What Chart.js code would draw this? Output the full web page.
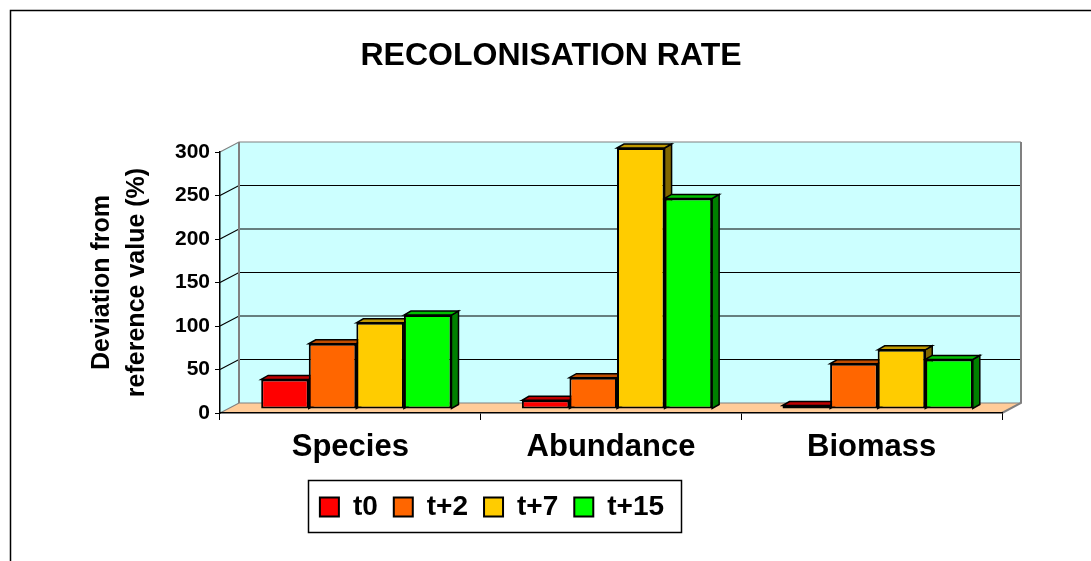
<!DOCTYPE html>
<html>
<head>
<meta charset="utf-8">
<title>Recolonisation rate</title>
<script src="https://cdn.jsdelivr.net/npm/chart.js@4.4.1/dist/chart.umd.min.js"></script>
<style>
  html, body { margin: 0; background: #fff; }
  canvas { display: block; }
</style>
</head>
<body>
<canvas id="chart" width="1091" height="561"></canvas>
<script>
const categories = ["Species", "Abundance", "Biomass"];
const seriesNames = ["t0", "t+2", "t+7", "t+15"];
const t0 = [34, 10, 4];
const t2 = [75, 36, 52];
const t7 = [99, 300, 68];
const t15 = [108, 242, 57];
const seriesColors = ["#FF0000", "#FF6600", "#FFCC00", "#00FF00"];
const yMax = 300;
const yStep = 50;

const FONT = "Arial, 'Liberation Sans', sans-serif";
// depth of the walls and of the columns (px)
const WALL = { dx: 19, dy: -10 };
const BAR = { dx: 7, dy: -4 };
const BAR_SHIFT = { x: 6, y: -4 };
// title and legend are not centred on the page
const TITLE_SHIFT = 15;
const LEGEND_SHIFT = -44;

function shade(hex, f) {
  const n = parseInt(hex.slice(1), 16);
  const r = Math.round(((n >> 16) & 255) * f);
  const g = Math.round(((n >> 8) & 255) * f);
  const b = Math.round((n & 255) * f);
  return "rgb(" + r + "," + g + "," + b + ")";
}

function poly(ctx, pts) {
  ctx.beginPath();
  ctx.moveTo(pts[0][0], pts[0][1]);
  for (let i = 1; i < pts.length; i++) ctx.lineTo(pts[i][0], pts[i][1]);
  ctx.closePath();
}

const nudge = {
  id: "nudge",
  afterLayout(chart) {
    chart.titleBlock.left += TITLE_SHIFT;
    chart.titleBlock.right += TITLE_SHIFT;
    chart.legend.left += LEGEND_SHIFT;
    chart.legend.right += LEGEND_SHIFT;
  }
};

// border, back wall, floor and grid lines
const walls = {
  id: "walls",
  beforeDraw(chart) {
    const { ctx, chartArea: a, scales: { y } } = chart;
    const x0 = a.left, x1 = a.right, yt = a.top, yb = a.bottom;
    const dx = WALL.dx, dy = WALL.dy;
    ctx.save();
    ctx.strokeStyle = "#000";
    ctx.lineWidth = 1.5;
    ctx.strokeRect(10.5, 10.5, chart.width + 20, chart.height + 20);

    ctx.fillStyle = "#CCFFFF";
    poly(ctx, [[x0, yb], [x0, yt], [x0 + dx, yt + dy], [x1 + dx, yt + dy], [x1 + dx, yb + dy], [x0 + dx, yb + dy]]);
    ctx.fill();

    ctx.fillStyle = "#FFCC99";
    poly(ctx, [[x0, yb], [x0 + dx, yb + dy], [x1 + dx, yb + dy], [x1, yb]]);
    ctx.fill();

    ctx.lineWidth = 1.2;
    y.ticks.forEach(t => {
      const py = y.getPixelForValue(t.value);
      const edge = t.value === 0 || t.value === yMax;
      ctx.strokeStyle = edge ? "#808080" : "#000";
      ctx.beginPath();
      ctx.moveTo(x0, py);
      ctx.lineTo(x0 + dx, py + dy);
      ctx.lineTo(x1 + dx, py + dy);
      ctx.stroke();
    });
    ctx.strokeStyle = "#808080";
    ctx.lineWidth = 2;
    ctx.beginPath();
    ctx.moveTo(x0 + dx, yt + dy); ctx.lineTo(x0 + dx, yb + dy);
    ctx.moveTo(x1 + dx, yt + dy); ctx.lineTo(x1 + dx, yb + dy);
    ctx.lineTo(x1, yb);
    ctx.stroke();
    ctx.restore();
  }
};

// top and side faces of the columns; fronts are drawn by Chart.js
const columns3d = {
  id: "columns3d",
  beforeDatasetsDraw(chart) {
    const ctx = chart.ctx;
    ctx.save();
    ctx.translate(BAR_SHIFT.x, BAR_SHIFT.y);
    ctx.lineWidth = 1.5;
    ctx.strokeStyle = "#000";
    categories.forEach((c, j) => {
      seriesNames.forEach((s, i) => {
        const el = chart.getDatasetMeta(i).data[j];
        const p = el.getProps(["x", "y", "base", "width"], true);
        const l = p.x - p.width / 2, r = p.x + p.width / 2;
        ctx.fillStyle = shade(seriesColors[i], 0.5);
        poly(ctx, [[r, p.y], [r + BAR.dx, p.y + BAR.dy], [r + BAR.dx, p.base + BAR.dy], [r, p.base]]);
        ctx.fill(); ctx.stroke();
        ctx.fillStyle = shade(seriesColors[i], 0.75);
        poly(ctx, [[l, p.y], [l + BAR.dx, p.y + BAR.dy], [r + BAR.dx, p.y + BAR.dy], [r, p.y]]);
        ctx.fill(); ctx.stroke();
      });
    });
  },
  afterDatasetsDraw(chart) {
    chart.ctx.restore();
  }
};

// frame round the legend
const legendBox = {
  id: "legendBox",
  afterDraw(chart) {
    const hb = chart.legend.legendHitBoxes;
    if (!hb || !hb.length) return;
    const left = Math.min(...hb.map(h => h.left)) - 12;
    const right = Math.max(...hb.map(h => h.left + h.width)) + 17;
    const cy = hb[0].top + hb[0].height / 2;
    const ctx = chart.ctx;
    ctx.save();
    ctx.strokeStyle = "#000";
    ctx.lineWidth = 1.5;
    ctx.strokeRect(Math.round(left) + 0.5, Math.round(cy - 27) + 0.5, Math.round(right - left), 52);
    ctx.restore();
  }
};

const seriesData = [t0, t2, t7, t15];

new Chart(document.getElementById("chart"), {
  type: "bar",
  data: {
    labels: categories,
    datasets: seriesNames.map((name, i) => ({
      label: name,
      data: seriesData[i],
      backgroundColor: seriesColors[i],
      borderColor: "#000",
      borderWidth: 2,
      borderSkipped: false,
      categoryPercentage: 0.73,
      barPercentage: 1.0,
      clip: false
    }))
  },
  options: {
    responsive: false,
    animation: false,
    layout: { padding: { left: 70, right: 89, top: 0, bottom: 30 } },
    plugins: {
      title: {
        display: true,
        text: "RECOLONISATION RATE",
        color: "#000",
        font: { family: FONT, size: 32, weight: "bold" },
        padding: { top: 37, bottom: 76.6 }
      },
      legend: {
        position: "bottom",
        labels: {
          color: "#000",
          font: { family: FONT, size: 28, weight: "bold" },
          boxWidth: 19,
          boxHeight: 19,
          padding: 16
        }
      },
      tooltip: { enabled: false }
    },
    scales: {
      x: {
        grid: { offset: true, drawOnChartArea: false, tickLength: 7, color: "#000" },
        border: { color: "#000", width: 1.5 },
        ticks: { color: "#000", padding: 9, font: { family: FONT, size: 31, weight: "bold" } },
        afterFit(scale) { scale.height = 64; }
      },
      y: {
        min: 0,
        max: yMax,
        ticks: { stepSize: yStep, color: "#000", padding: 5, font: { family: FONT, size: 21, weight: "bold" } },
        grid: { drawOnChartArea: false, tickLength: 5, color: "#000" },
        border: { color: "#000", width: 1.5 },
        title: {
          display: true,
          text: ["Deviation from", "reference value (%)"],
          color: "#000",
          font: { family: FONT, size: 25, weight: "bold", lineHeight: 1.4 },
          padding: { top: 14.5 }
        },
        afterFit(scale) { scale.width = 150; }
      }
    }
  },
  plugins: [nudge, walls, columns3d, legendBox]
});
</script>
</body>
</html>
